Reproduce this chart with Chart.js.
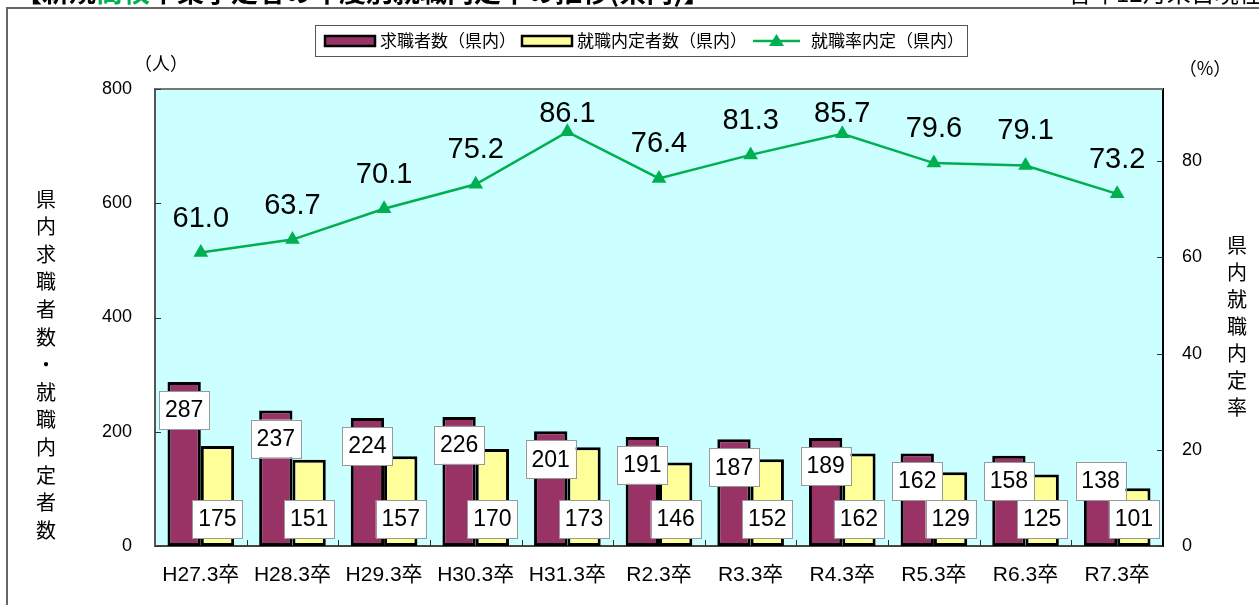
<!DOCTYPE html>
<html lang="ja">
<head>
    <meta charset="UTF-8">
    <title>新規高卒者の就職内定率の推移(県内)</title>
    <script src="https://cdn.jsdelivr.net/npm/chart.js"></script>
    <style>
        body { margin: 0; background: #fff; }
        canvas { display: block; }
    </style>
</head>
<body>
    <canvas id="chart" width="1259" height="605"></canvas>

    <script>
        // dati
        const categories = ['H27.3卒', 'H28.3卒', 'H29.3卒', 'H30.3卒', 'H31.3卒', 'R2.3卒', 'R3.3卒', 'R4.3卒', 'R5.3卒', 'R6.3卒', 'R7.3卒'];
        const applicants = [287, 237, 224, 226, 201, 191, 187, 189, 162, 158, 138];
        const offers = [175, 151, 157, 170, 173, 146, 152, 162, 129, 125, 101];
        const offerRate = [61.0, 63.7, 70.1, 75.2, 86.1, 76.4, 81.3, 85.7, 79.6, 79.1, 73.2];
        const leftTicks = [0, 200, 400, 600, 800];
        const rightTicks = [0, 20, 40, 60, 80];

        const seriesNames = ['求職者数（県内）', '就職内定者数（県内）', '就職率内定（県内）'];
        const leftTitle = '県内求職者数・就職内定者数';
        const rightTitle = '県内就職内定率';

        const JP = "'Noto Sans CJK JP', sans-serif";
        const NUM = "'Liberation Sans', 'Noto Sans CJK JP', sans-serif";
        const GREEN = '#00B050';

        // sfondo dell'area del grafico
        const plotBg = {
            id: 'plotBg',
            beforeDraw(chart) {
                const { ctx, chartArea: a } = chart;
                ctx.save();
                ctx.fillStyle = '#CCFFFF';
                ctx.fillRect(a.left, a.top, a.right - a.left, a.bottom - a.top);
                ctx.restore();
            },
            afterDatasetsDraw(chart) {
                const { ctx, chartArea: a, scales } = chart;
                ctx.save();
                // bordo superiore
                ctx.strokeStyle = '#777';
                ctx.lineWidth = 2;
                ctx.beginPath();
                ctx.moveTo(a.left, a.top);
                ctx.lineTo(a.right, a.top);
                ctx.stroke();
                // tacche interne
                ctx.lineWidth = 1;
                ctx.strokeStyle = '#333';
                ctx.beginPath();
                leftTicks.forEach(v => {
                    const y = Math.round(scales.y.getPixelForValue(v)) + 0.5;
                    ctx.moveTo(a.left, y); ctx.lineTo(a.left + 6, y);
                });
                rightTicks.forEach(v => {
                    const y = Math.round(scales.y1.getPixelForValue(v)) + 0.5;
                    ctx.moveTo(a.right, y); ctx.lineTo(a.right - 6, y);
                });
                const step = (a.right - a.left) / categories.length;
                for (let i = 1; i < categories.length; i++) {
                    const x = Math.round(a.left + step * i) + 0.5;
                    ctx.moveTo(x, a.bottom); ctx.lineTo(x, a.bottom - 6);
                }
                ctx.stroke();
                ctx.restore();
            }
        };

        function labelBox(ctx, text, cx, cy) {
            const w = 50, h = 38;
            ctx.fillStyle = '#fff';
            ctx.fillRect(cx - w / 2, cy - h / 2, w, h);
            ctx.strokeStyle = '#999';
            ctx.lineWidth = 1;
            ctx.strokeRect(Math.round(cx - w / 2) + 0.5, Math.round(cy - h / 2) + 0.5, w, h);
            ctx.fillStyle = '#000';
            ctx.font = '23px ' + NUM;
            ctx.textAlign = 'center';
            ctx.textBaseline = 'middle';
            ctx.fillText(text, cx, cy + 1);
        }

        // etichette dei valori
        const valueLabels = {
            id: 'valueLabels',
            afterDatasetsDraw(chart) {
                const { ctx, chartArea: a } = chart;
                const base = a.bottom;
                ctx.save();
                chart.getDatasetMeta(0).data.forEach((bar, i) => {
                    const cy = Math.min(bar.y + 28, base - 65);
                    labelBox(ctx, String(applicants[i]), bar.x, cy);
                });
                chart.getDatasetMeta(1).data.forEach((bar, i) => {
                    labelBox(ctx, String(offers[i]), bar.x, base - 27);
                });
                ctx.font = '29px ' + NUM;
                ctx.fillStyle = '#000';
                ctx.textAlign = 'center';
                ctx.textBaseline = 'middle';
                chart.getDatasetMeta(2).data.forEach((pt, i) => {
                    // le etichette restano dentro l'area del grafico
                    const cy = Math.max(pt.y - 34, a.top + 25);
                    ctx.fillText(offerRate[i].toFixed(1), pt.x, cy);
                });
                ctx.restore();
            }
        };

        // testi, cornice e legenda
        const decorations = {
            id: 'decorations',
            afterDraw(chart) {
                const { ctx } = chart;
                ctx.save();

                // titolo tagliato in alto
                ctx.font = 'bold 27px ' + JP;
                ctx.textBaseline = 'alphabetic';
                ctx.textAlign = 'left';
                let x = 15;
                [['【新規', '#000'], ['高校', GREEN], ['卒業予定者の年度別就職内定率の推移(県内)】', '#000']].forEach(([t, c]) => {
                    ctx.fillStyle = c;
                    ctx.fillText(t, x, 2);
                    x += ctx.measureText(t).width;
                });
                ctx.font = '24px ' + JP;
                ctx.fillStyle = '#000';
                ctx.fillText('各年12月末日現在', 1068, 2);

                // cornice esterna
                ctx.strokeStyle = '#666';
                ctx.lineWidth = 2;
                ctx.beginPath();
                ctx.moveTo(7, 605);
                ctx.lineTo(7, 8);
                ctx.lineTo(1259, 8);
                ctx.stroke();

                // unità
                ctx.font = '18px ' + JP;
                ctx.textBaseline = 'middle';
                ctx.textAlign = 'center';
                ctx.fillText('（人）', 161, 63);
                ctx.fillText('（%）', 1205, 68);

                // titoli verticali
                ctx.font = '20px ' + JP;
                [...leftTitle].forEach((ch, i) => ctx.fillText(ch, 46, 199 + i * 27.6));
                [...rightTitle].forEach((ch, i) => ctx.fillText(ch, 1237, 245 + i * 27));

                // legenda
                ctx.fillStyle = '#fff';
                ctx.fillRect(315, 25, 652, 31);
                ctx.strokeStyle = '#555';
                ctx.lineWidth = 1;
                ctx.strokeRect(315.5, 25.5, 652, 31);
                ctx.font = '17px ' + JP;
                ctx.textAlign = 'left';
                const ly = 41;
                let lx = 325;
                const fills = ['#993366', '#FFFF99'];
                fills.forEach((f, i) => {
                    ctx.fillStyle = f;
                    ctx.fillRect(lx, ly - 5, 50, 10);
                    ctx.strokeStyle = '#000';
                    ctx.lineWidth = 2.5;
                    ctx.strokeRect(lx, ly - 5, 50, 10);
                    ctx.fillStyle = '#000';
                    ctx.fillText(seriesNames[i], lx + 55, ly);
                    lx += 55 + ctx.measureText(seriesNames[i]).width + 6;
                });
                ctx.strokeStyle = GREEN;
                ctx.lineWidth = 2.5;
                ctx.beginPath();
                ctx.moveTo(lx, ly); ctx.lineTo(lx + 47, ly);
                ctx.stroke();
                ctx.fillStyle = GREEN;
                ctx.beginPath();
                ctx.moveTo(lx + 23.5, ly - 7);
                ctx.lineTo(lx + 31, ly + 5);
                ctx.lineTo(lx + 16, ly + 5);
                ctx.closePath();
                ctx.fill();
                ctx.fillStyle = '#000';
                ctx.fillText(seriesNames[2], lx + 58, ly);

                ctx.restore();
            }
        };

        const ctx = document.getElementById('chart').getContext('2d');
        const chart = new Chart(ctx, {
            data: {
                labels: categories,
                datasets: [
                    {
                        type: 'bar',
                        label: seriesNames[0],
                        data: applicants,
                        backgroundColor: '#993366',
                        borderColor: '#000',
                        borderWidth: 3,
                        borderSkipped: false,
                        categoryPercentage: 0.727,
                        barPercentage: 1,
                        yAxisID: 'y',
                        order: 1
                    },
                    {
                        type: 'bar',
                        label: seriesNames[1],
                        data: offers,
                        backgroundColor: '#FFFF99',
                        borderColor: '#000',
                        borderWidth: 3,
                        borderSkipped: false,
                        categoryPercentage: 0.727,
                        barPercentage: 1,
                        yAxisID: 'y',
                        order: 1
                    },
                    {
                        type: 'line',
                        label: seriesNames[2],
                        data: offerRate,
                        borderColor: GREEN,
                        backgroundColor: GREEN,
                        borderWidth: 2.5,
                        pointStyle: 'triangle',
                        pointRadius: 8.5,
                        pointBorderWidth: 0,
                        tension: 0,
                        yAxisID: 'y1',
                        order: 0
                    }
                ]
            },
            options: {
                responsive: false,
                animation: false,
                layout: { padding: { top: 89, left: 0, right: 0, bottom: 0 } },
                plugins: {
                    legend: { display: false },
                    tooltip: { enabled: false }
                },
                scales: {
                    x: {
                        grid: { display: false, drawTicks: false },
                        border: { display: true, color: '#444', width: 2 },
                        ticks: { color: '#000', font: { size: 21, family: NUM }, padding: 17, maxRotation: 0 },
                        afterFit(scale) { scale.height = 59; }
                    },
                    y: {
                        position: 'left',
                        min: 0,
                        max: 800,
                        grid: { display: false, drawTicks: false },
                        border: { display: true, color: '#555', width: 2 },
                        ticks: { stepSize: 200, color: '#000', font: { size: 18, family: NUM }, padding: 23 },
                        afterFit(scale) { scale.width = 155; }
                    },
                    y1: {
                        position: 'right',
                        min: 0,
                        max: 95,
                        grid: { display: false, drawTicks: false },
                        border: { display: true, color: '#000', width: 2 },
                        ticks: { stepSize: 20, color: '#000', font: { size: 18, family: NUM }, padding: 19 },
                        afterBuildTicks(scale) {
                            scale.ticks = rightTicks.map(v => ({ value: v }));
                        },
                        afterFit(scale) { scale.width = 96; }
                    }
                }
            },
            plugins: [plotBg, valueLabels, decorations]
        });
    </script>
</body>
</html>
